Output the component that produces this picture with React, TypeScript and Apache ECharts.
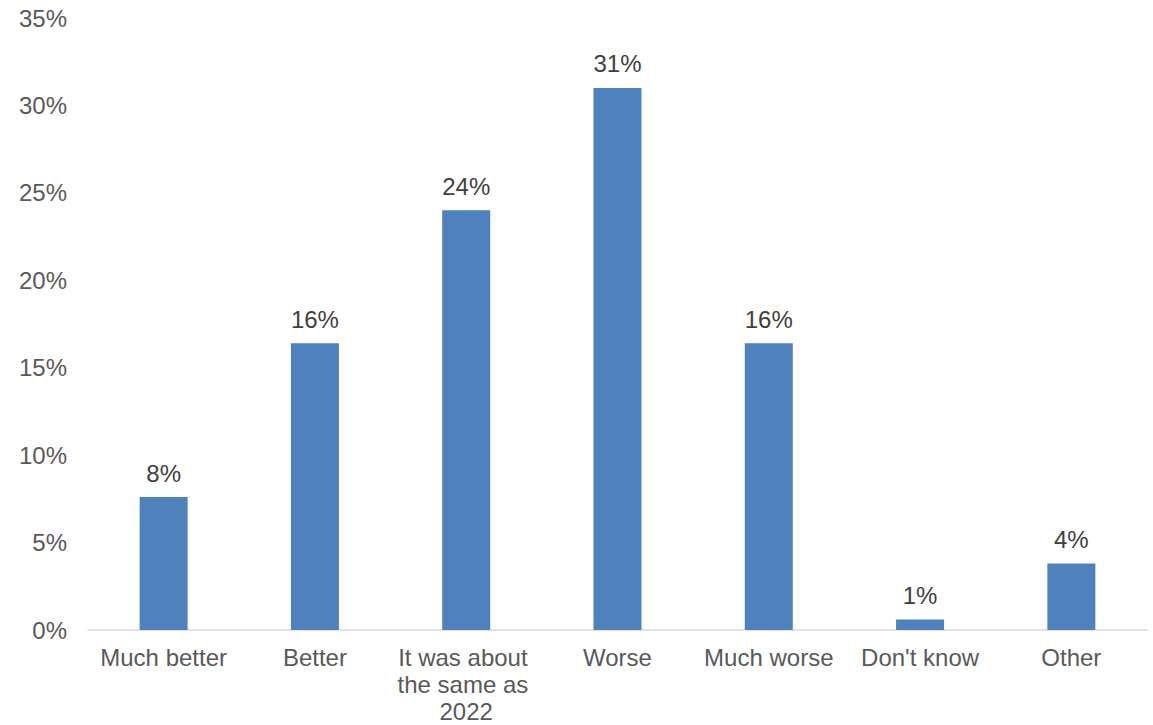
import React, { useEffect, useRef } from "react";
import * as echarts from "echarts";

const categories = [
  "Much better",
  "Better",
  "It was about the same as 2022",
  "Worse",
  "Much worse",
  "Don't know",
  "Other",
];
const values = [7.6, 16.4, 24.0, 31.0, 16.4, 0.6, 3.8];
const yTicks = { min: 0, max: 35, interval: 5 };

export default function App() {
  const ref = useRef<HTMLDivElement>(null);
  useEffect(() => {
    const chart = echarts.init(ref.current!, null, { renderer: "svg" });
    const font = "'Liberation Sans', Arial, sans-serif";
    chart.setOption({
      animation: false,
      textStyle: { fontFamily: font },
      grid: { left: 88, right: 6, top: 18, bottom: 95, containLabel: false },
      xAxis: {
        type: "category",
        data: categories,
        axisLine: { lineStyle: { color: "#D9D9D9", width: 1.5 } },
        axisTick: { show: false },
        axisLabel: {
          interval: 0,
          color: "#595959",
          fontSize: 24,
          fontFamily: font,
          lineHeight: 27,
          margin: 14,
          width: 145,
          overflow: "break",
        },
      },
      yAxis: {
        type: "value",
        min: yTicks.min,
        max: yTicks.max,
        interval: yTicks.interval,
        axisLine: { show: false },
        axisTick: { show: false },
        splitLine: { show: false },
        axisLabel: {
          formatter: "{value}%",
          color: "#595959",
          fontSize: 24,
          fontFamily: font,
          margin: 21,
        },
      },
      series: [
        {
          type: "bar",
          data: values,
          barWidth: 48,
          itemStyle: { color: "#4F81BD" },
          label: {
            show: true,
            position: "top",
            distance: 12,
            color: "#404040",
            fontSize: 24,
            fontFamily: font,
            formatter: (p: any) => Math.round(p.value) + "%",
          },
        },
      ],
    });
    return () => chart.dispose();
  }, []);
  return <div ref={ref} style={{ width: 1153, height: 725, position: "absolute", left: 0, top: 0 }} />;
}
